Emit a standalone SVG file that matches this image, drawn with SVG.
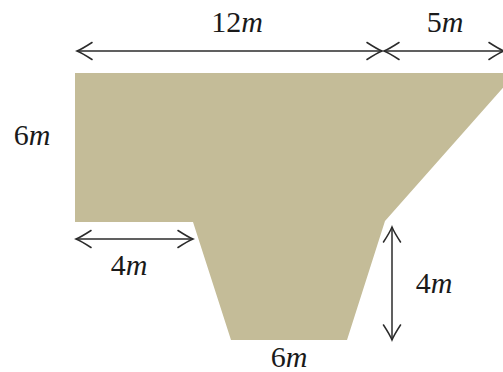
<svg xmlns="http://www.w3.org/2000/svg" width="503" height="372" viewBox="0 0 503 372">
<style>
.dim{fill:none;stroke:#2b2b2b;stroke-width:1.5;marker-start:url(#ah);marker-end:url(#ah)}
.lbl{font-family:"Liberation Serif","Times New Roman",serif;font-size:30px;fill:#1a1a1a;text-anchor:middle}
.it{font-style:italic}
</style>
<defs>
<marker id="ah" markerUnits="userSpaceOnUse" viewBox="-17 -10 19 20" refX="0" refY="0" markerWidth="19" markerHeight="20" orient="auto-start-reverse">
<path d="M-15,-8.5 Q-5,-2 0,0 Q-5,2 -15,8.5" fill="none" stroke="#2b2b2b" stroke-width="1.5" stroke-linecap="round"/>
</marker>
</defs>
<g id="shape">
<polygon points="75,73 516,73 385,221 347,340 231,340 193,222 75,222" fill="#c4bc98"/>
</g>
<g id="connectors">
<line class="dim" x1="77" y1="51" x2="382" y2="51"/>
<line class="dim" x1="384" y1="51" x2="504" y2="51"/>
<line class="dim" x1="76" y1="239" x2="193" y2="239"/>
<line class="dim" x1="392" y1="227" x2="392" y2="340"/>
</g>
<g id="labels">
<text class="lbl" x="237" y="32">12<tspan class="it">m</tspan></text>
<text class="lbl" x="445" y="32">5<tspan class="it">m</tspan></text>
<text class="lbl" x="32" y="145">6<tspan class="it">m</tspan></text>
<text class="lbl" x="129" y="275">4<tspan class="it">m</tspan></text>
<text class="lbl" x="434" y="293">4<tspan class="it">m</tspan></text>
<text class="lbl" x="289" y="367">6<tspan class="it">m</tspan></text>
</g>
</svg>
